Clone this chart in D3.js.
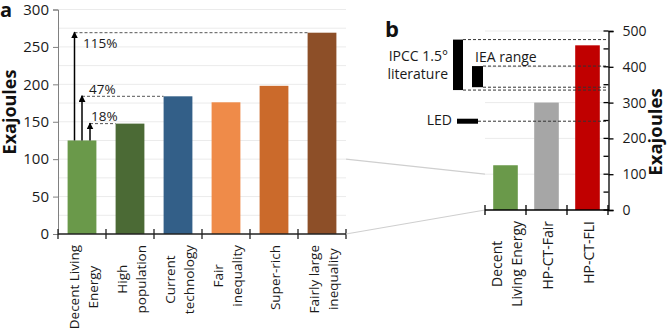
<!DOCTYPE html>
<html>
<head>
<meta charset="utf-8">
<script src="https://cdn.jsdelivr.net/npm/d3@7"></script>
<style>
  body { margin: 0; background: #fff; }
  svg { display: block; font-family: "Open Sans", sans-serif; }
  .tick text { fill: #1a1a1a; }
</style>
</head>
<body>
<svg id="chart" width="669" height="330"></svg>
<script>
// panel a data
var scenariosA = ["Decent Living\nEnergy", "High\npopulation", "Current\ntechnology",
                  "Fair\ninequality", "Super-rich", "Fairly large\ninequality"];
var energyA = [125, 147.5, 184, 176, 198, 269];
var ticksA = [0, 50, 100, 150, 200, 250, 300];
var increaseLabels = ["18%", "47%", "115%"];
var increaseTargets = [1, 2, 5];

// panel b data
var scenariosB = ["Decent\nLiving Energy", "HP-CT-Fair", "HP-CT-FLI"];
var energyB = [125, 300, 460];
var ticksB = [0, 100, 200, 300, 400, 500];
var ipccRange = [335, 476];
var ieaRange = [343, 402];
var ledValue = 248;

var colorsA = ["#6a994a", "#4b6a35", "#335f88", "#ef8b49", "#cb6a2b", "#8d4f28"];
var colorsB = ["#6a994a", "#a6a6a6", "#c00000"];

var svg = d3.select("#chart");

// ---------- panel a ----------
var xA = d3.scaleBand().domain(scenariosA).range([58, 346]).paddingInner(0.4).paddingOuter(0.2);
var yA = d3.scaleLinear().domain([0, 300]).range([234, 9.5]);

var gA = svg.append("g");

gA.selectAll("line.grid")
  .data(d3.range(25, 301, 25))
  .enter().append("line")
  .attr("x1", 58).attr("x2", 346)
  .attr("y1", function(d){ return yA(d); })
  .attr("y2", function(d){ return yA(d); })
  .attr("stroke", "#ebebeb");

gA.selectAll("rect.bar")
  .data(energyA)
  .enter().append("rect")
  .attr("x", function(d, i){ return xA(scenariosA[i]); })
  .attr("y", function(d){ return yA(d); })
  .attr("width", xA.bandwidth())
  .attr("height", function(d){ return yA(0) - yA(d); })
  .attr("fill", function(d, i){ return colorsA[i]; });

var axA = gA.append("g")
  .attr("transform", "translate(58,0)")
  .call(d3.axisLeft(yA).tickValues(ticksA).tickSize(5).tickPadding(4));
axA.select(".domain").attr("stroke", "#808080");
axA.selectAll(".tick line").attr("stroke", "#808080");
axA.selectAll(".tick text").attr("font-size", 15).attr("font-family", "Open Sans");

// x axis with ticks on category boundaries
gA.append("line").attr("x1", 58).attr("x2", 346).attr("y1", yA(0)).attr("y2", yA(0))
  .attr("stroke", "#222").attr("stroke-width", 1.3);
gA.selectAll("line.xtick")
  .data(d3.range(scenariosA.length + 1))
  .enter().append("line")
  .attr("x1", function(i){ return 58 + i * xA.step(); })
  .attr("x2", function(i){ return 58 + i * xA.step(); })
  .attr("y1", yA(0) - 5).attr("y2", yA(0) + 5)
  .attr("stroke", "#222").attr("stroke-width", 1.3);

function drawLabels(g, names, scale, top, size, gap) {
  names.forEach(function(name) {
    var lines = name.split("\n");
    var cx = scale(name) + scale.bandwidth() / 2 + 1;
    var t = g.append("g");
    var texts = lines.map(function(line, k) {
      return t.append("text").text(line)
        .attr("font-size", size).attr("fill", "#1a1a1a")
        .attr("text-anchor", "middle")
        .attr("dominant-baseline", "central");
    });
    var maxLen = d3.max(texts, function(s){ return s.node().getComputedTextLength(); });
    texts.forEach(function(s, k) {
      var lx = cx + (k - (lines.length - 1) / 2) * gap;
      var ly = top + maxLen / 2;
      s.attr("transform", "translate(" + lx + "," + ly + ") rotate(-90)");
    });
  });
}
drawLabels(gA, scenariosA, xA, 245, 13.5, 19);

// growth arrows from the first bar
var baseVal = energyA[0];
var arrowX = [90, 82, 74.5];
svg.append("defs").append("marker")
  .attr("id", "head").attr("viewBox", "0 0 10 10")
  .attr("refX", 9).attr("refY", 5)
  .attr("markerWidth", 7).attr("markerHeight", 7)
  .attr("markerUnits", "userSpaceOnUse")
  .attr("orient", "auto")
  .append("path").attr("d", "M0,0 L10,5 L0,10 Z").attr("fill", "#000");

var labelPos = [[91, 121], [89, 94], [83, 48]];
increaseTargets.forEach(function(ti, k) {
  var v = energyA[ti];
  var ax = arrowX[k];
  gA.append("line")
    .attr("x1", ax).attr("x2", xA(scenariosA[ti]))
    .attr("y1", yA(v)).attr("y2", yA(v))
    .attr("stroke", "#555").attr("stroke-dasharray", "3,2");
  gA.append("line")
    .attr("x1", ax).attr("x2", ax)
    .attr("y1", yA(baseVal)).attr("y2", yA(v) - 0.5)
    .attr("stroke", "#000").attr("stroke-width", 1.5)
    .attr("marker-end", "url(#head)");
  gA.append("text").text(increaseLabels[k])
    .attr("x", labelPos[k][0]).attr("y", labelPos[k][1])
    .attr("font-size", 13.5).attr("fill", "#1a1a1a");
});

gA.append("text").text("Exajoules")
  .attr("transform", "translate(16,112) rotate(-90)")
  .attr("text-anchor", "middle")
  .attr("font-size", 18).attr("font-weight", "bold").attr("fill", "#111");
gA.append("text").text("a")
  .attr("x", 0).attr("y", 17)
  .attr("font-size", 20).attr("font-weight", "bold").attr("fill", "#111");

// ---------- panel b ----------
var xB = d3.scaleBand().domain(scenariosB).range([485, 608]).paddingInner(0.4).paddingOuter(0.2);
var yB = d3.scaleLinear().domain([0, 500]).range([210, 31]);

// connector lines between the panels
[100, 0].forEach(function(v) {
  svg.append("line")
    .attr("x1", 346).attr("y1", yA(v))
    .attr("x2", 485).attr("y2", yB(v))
    .attr("stroke", "#cfcfcf").attr("stroke-width", 1.2);
});

var gB = svg.append("g");

gB.selectAll("line.grid")
  .data(ticksB.slice(1))
  .enter().append("line")
  .attr("x1", 485).attr("x2", 608)
  .attr("y1", function(d){ return yB(d); })
  .attr("y2", function(d){ return yB(d); })
  .attr("stroke", "#ebebeb");

gB.selectAll("rect.bar")
  .data(energyB)
  .enter().append("rect")
  .attr("x", function(d, i){ return xB(scenariosB[i]); })
  .attr("y", function(d){ return yB(d); })
  .attr("width", xB.bandwidth())
  .attr("height", function(d){ return yB(0) - yB(d); })
  .attr("fill", function(d, i){ return colorsB[i]; });

// reference ranges
function dash(x1, v) {
  gB.append("line")
    .attr("x1", x1).attr("x2", 608)
    .attr("y1", yB(v)).attr("y2", yB(v))
    .attr("stroke", "#333").attr("stroke-dasharray", "3,2");
}
dash(463, ipccRange[1]);
dash(463, ipccRange[0]);
dash(483, ieaRange[1]);
dash(483, ieaRange[0]);
dash(478, ledValue);

gB.append("rect").attr("x", 453).attr("width", 10)
  .attr("y", yB(ipccRange[1])).attr("height", yB(ipccRange[0]) - yB(ipccRange[1]))
  .attr("fill", "#000");
gB.append("rect").attr("x", 472).attr("width", 11)
  .attr("y", yB(ieaRange[1])).attr("height", yB(ieaRange[0]) - yB(ieaRange[1]))
  .attr("fill", "#000");
gB.append("rect").attr("x", 457).attr("width", 21)
  .attr("y", yB(ledValue) - 2.5).attr("height", 5)
  .attr("fill", "#000");

gB.append("text").text("IPCC 1.5°").attr("x", 448).attr("y", 61)
  .attr("text-anchor", "end").attr("font-size", 14).attr("fill", "#1a1a1a");
gB.append("text").text("literature").attr("x", 448).attr("y", 79)
  .attr("text-anchor", "end").attr("font-size", 14).attr("fill", "#1a1a1a");
gB.append("text").text("IEA range").attr("x", 475).attr("y", 62)
  .attr("font-size", 14).attr("fill", "#1a1a1a");
gB.append("text").text("LED").attr("x", 452).attr("y", 125)
  .attr("text-anchor", "end").attr("font-size", 14).attr("fill", "#1a1a1a");

var axB = gB.append("g")
  .attr("transform", "translate(608.5,0)")
  .call(d3.axisRight(yB).tickValues(ticksB).tickSize(5).tickPadding(9));
axB.select(".domain").attr("stroke", "#000").attr("stroke-width", 1.3);
axB.selectAll(".tick line").attr("stroke", "#000").attr("stroke-width", 1.3);
axB.selectAll(".tick text").attr("font-size", 14).attr("font-family", "Open Sans");
gB.selectAll("line.minor")
  .data(d3.range(0, 501, 50))
  .enter().append("line")
  .attr("x1", 603.5).attr("x2", 608.5)
  .attr("y1", function(d){ return yB(d); })
  .attr("y2", function(d){ return yB(d); })
  .attr("stroke", "#000").attr("stroke-width", 1.3);

gB.append("line").attr("x1", 485).attr("x2", 609).attr("y1", yB(0)).attr("y2", yB(0))
  .attr("stroke", "#000").attr("stroke-width", 1.3);
gB.selectAll("line.xtick")
  .data(d3.range(scenariosB.length + 1))
  .enter().append("line")
  .attr("x1", function(i){ return 485 + i * xB.step(); })
  .attr("x2", function(i){ return 485 + i * xB.step(); })
  .attr("y1", yB(0) - 5).attr("y2", yB(0) + 5)
  .attr("stroke", "#000").attr("stroke-width", 1.3);

drawLabels(gB, scenariosB, xB, 221, 14, 20);

gB.append("text").text("Exajoules")
  .attr("transform", "translate(662,132) rotate(-90)")
  .attr("text-anchor", "middle")
  .attr("font-size", 18.5).attr("font-weight", "bold").attr("fill", "#111");
gB.append("text").text("b")
  .attr("x", 385).attr("y", 37)
  .attr("font-size", 22).attr("font-weight", "bold").attr("fill", "#111");
</script>
</body>
</html>
